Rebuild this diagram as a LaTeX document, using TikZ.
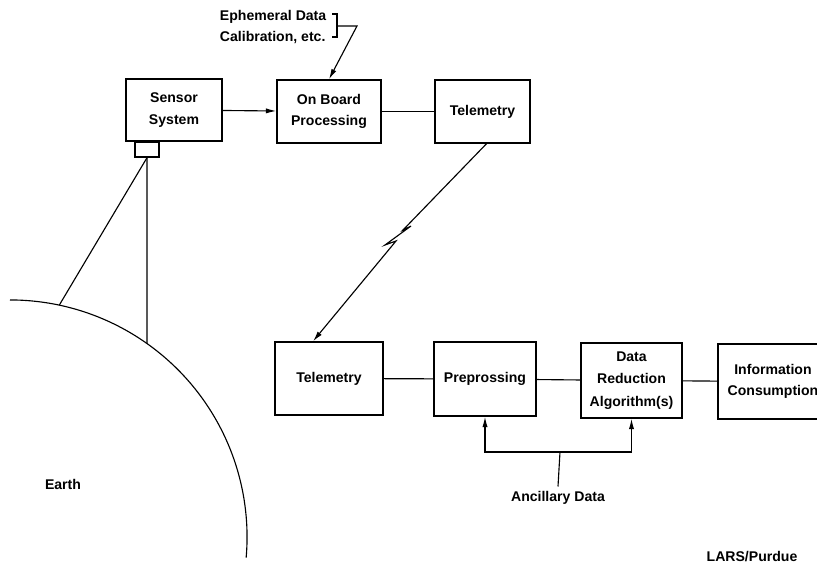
\documentclass[tikz,border=0pt]{standalone}
\usepackage{fontspec}
\setmainfont{Liberation Sans}
\usetikzlibrary{arrows.meta}
\begin{document}
\begin{tikzpicture}[x=0.025cm, y=-0.025cm,
			every node/.style={font=\bfseries\fontsize{10}{15}\selectfont},
			block/.style={draw, line width=1pt, align=center, inner sep=0pt},
			link/.style={line width=0.8pt},
			arrow/.style={link, -{Latex[length=2.6mm, width=1.3mm]}}
			]
			\useasboundingbox (0,0) rectangle (817,574);
			\clip (0,0) rectangle (817,574);
			
			% Spacecraft side
			\node[block, minimum width=2.4cm, minimum height=1.55cm] (sensor) at (174,110) {Sensor\\System};
			\node[block, minimum width=0.6cm, minimum height=0.375cm] (detector) at (147,149.5) {};
			\node[block, minimum width=2.6cm, minimum height=1.575cm] (onboard) at (329,111.5) {On Board\\Processing};
			\node[block, minimum width=2.375cm, minimum height=1.575cm] (telup) at (482.5,111.5) {Telemetry};
			\node[align=left, anchor=west] (eph) at (215,27) {Ephemeral Data\\Calibration, etc.};
			
			% Ground side
			\node[block, minimum width=2.7cm, minimum height=1.825cm] (teldown) at (329,378.5) {Telemetry};
			\node[block, minimum width=2.55cm, minimum height=1.85cm] (prepro) at (485,379) {Preprossing};
			\node[block, minimum width=2.525cm, minimum height=1.875cm, font=\bfseries\fontsize{10}{16}\selectfont] (reduct) at (631.5,380.5) {Data\\Reduction\\Algorithm(s)};
			\node[block, minimum width=2.75cm, minimum height=1.875cm] (info) at (773,381.5) {Information\\Consumption};
			\node (anc) at (558,498) {Ancillary Data};
			\node (earthlbl) at (63,484) {Earth};
			\node (lars) at (752,557) {LARS/Purdue};
			
			% Earth and field of view
			\coordinate (earth) at (10,537);
			\draw[link] ([shift={(90:5.925cm)}]earth) arc[start angle=90, end angle=-5, radius=5.925cm];
			\coordinate (gnd1) at ([shift={(78:5.925cm)}]earth);
			\coordinate (gnd2) at ([shift={(54.7:5.925cm)}]earth);
			\draw[link] (detector.south) -- (gnd1);
			\draw[link] (detector.south) -- (gnd2);
			
			% Upper chain
			\draw[arrow] (sensor) -- (onboard);
			\draw[link] (onboard) -- (telup);
			\draw[link] (332,14) -- (337,14) -- (337,37) -- (332,37);
			\draw[arrow] (337,26) -- (357,26) -- (onboard.north);
			
			% Downlink with lightning jog
			\draw[arrow, line join=miter] ([xshift=0.1cm]telup.south) -- (403,230) -- (411,226) -- (385,245) -- (396,241) -- ([xshift=-0.4cm]teldown.north);
			
			% Lower chain
			\draw[link] (teldown) -- (prepro);
			\draw[link] (prepro) -- (reduct);
			\draw[link] (reduct) -- (info);
			
			% Ancillary data
			\coordinate (jct) at (560,452);
			\draw[link] (anc.north) -- (jct);
			\draw[arrow] (jct) -| (prepro.south);
			\draw[arrow] (jct) -| (reduct.south);
		\end{tikzpicture}
\end{document}
